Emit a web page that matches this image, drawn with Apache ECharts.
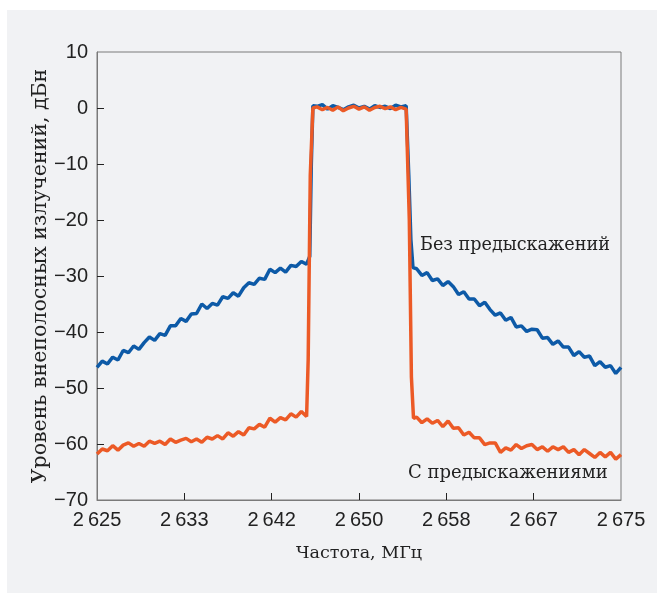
<!DOCTYPE html>
<html>
<head>
<meta charset="utf-8">
<script src="https://cdn.jsdelivr.net/npm/echarts@6/dist/echarts.min.js"></script>
<style>
  html, body { margin: 0; padding: 0; background: #ffffff; }
  #panel { position: absolute; left: 7px; top: 10px; width: 650px; height: 583px; background: #f1f2f4; }
  #chart { position: absolute; left: 0; top: 0; width: 658px; height: 594px; }
</style>
</head>
<body>
<div id="panel"></div>
<div id="chart"></div>
<script>
// sampling grids, MHz
function range(a, n) {
  const out = [];
  for (let i = 0; i < n; i++) out.push(a + i * 0.5);
  return out;
}
const freqLeft = range(2625, 41);   // 2625 .. 2645
const freqTop = range(2646, 18);    // 2646 .. 2654.5
const freqRight = range(2655.5, 40); // 2655.5 .. 2675

const xTickLabels = [2625, 2633.333, 2641.667, 2650, 2658.333, 2666.667, 2675];
const yTicks = [0, -10, -20, -30, -40, -50, -60];

// Без предыскажений (blue), dBc
const blueLeft = [-46.3, -45.2, -45.7, -44.5, -45.0, -43.3, -43.7, -42.5, -43.1, -41.9,
  -40.9, -41.5, -40.3, -40.6, -38.9, -38.9, -37.6, -38.1, -36.8, -36.7,
  -35.0, -35.8, -34.9, -35.2, -33.7, -34.0, -33.0, -33.6, -32.1, -31.2,
  -31.5, -30.4, -30.6, -28.8, -29.4, -28.6, -29.3, -28.1, -28.3, -27.4, -27.9];
const blueRiseFreq = [2645.3, 2645.45, 2645.6];
const blueRise = [-26.5, -10, 0.4];
const blueTop = [0.3, 0.6, -0.2, 0.4, 0.1, -0.3, 0.2, 0.5, 0.0, 0.3, -0.2, 0.4, 0.1, 0.3, -0.1, 0.5, 0.2, 0.4];
const blueFallFreq = [2654.75, 2654.95, 2655.15];
const blueFall = [-12, -23.5, -28.5];
const blueRight = [-28.7, -29.9, -29.4, -30.8, -30.5, -31.7, -31.0, -31.9, -33.3, -32.8,
  -34.1, -34.1, -35.3, -34.7, -36.0, -37.0, -36.6, -37.9, -37.4, -39.1,
  -38.9, -39.9, -39.5, -39.6, -41.1, -41.0, -42.2, -41.6, -42.7, -42.7,
  -44.2, -43.5, -44.5, -44.3, -46.0, -45.3, -46.3, -46.0, -47.4, -46.3];

// С предыскажениями (orange), dBc
const orangeLeft = [-61.8, -60.9, -61.2, -60.3, -61.1, -60.2, -59.8, -60.4, -59.9, -60.4,
  -59.5, -59.9, -59.5, -60.1, -59.1, -59.7, -59.3, -59.0, -59.6, -59.1,
  -59.7, -58.8, -59.1, -58.5, -59.1, -58.0, -58.6, -57.8, -58.4, -57.1,
  -57.3, -56.5, -57.0, -55.4, -56.1, -55.3, -55.7, -54.6, -55.2, -54.2, -55.1];
const orangeRiseFreq = [2645.15, 2645.35, 2645.6];
const orangeRise = [-45, -12, 0.0];
const orangeTop = [0.2, -0.3, 0.1, -0.4, 0.2, -0.5, 0.0, 0.3, -0.2, 0.2, -0.4, 0.1, 0.3, -0.1, 0.2, -0.3, 0.1, -0.2];
const orangeFallFreq = [2654.8, 2655.0, 2655.2];
const orangeFall = [-20, -48, -55.4];
const orangeRight = [-55.2, -56.2, -55.5, -56.3, -55.8, -56.9, -55.9, -57.2, -57.1, -58.4,
  -57.9, -58.9, -58.9, -60.1, -59.8, -59.8, -61.5, -60.7, -61.1, -60.1,
  -60.8, -60.3, -60.1, -61.0, -60.5, -61.3, -60.5, -61.0, -60.5, -61.5,
  -61.0, -61.9, -61.0, -61.7, -62.4, -61.5, -62.3, -61.5, -62.7, -61.9];

function pairs(xs, ys) {
  return xs.map((x, i) => [x, ys[i]]);
}

const blueData = [].concat(
  pairs(freqLeft, blueLeft), pairs(blueRiseFreq, blueRise), pairs(freqTop, blueTop),
  pairs(blueFallFreq, blueFall), pairs(freqRight, blueRight));
const orangeData = [].concat(
  pairs(freqLeft, orangeLeft), pairs(orangeRiseFreq, orangeRise), pairs(freqTop, orangeTop),
  pairs(orangeFallFreq, orangeFall), pairs(freqRight, orangeRight));

const numFont = "'Liberation Sans Narrow', 'Liberation Sans', sans-serif";
const textFont = "'DejaVu Serif', serif";

const chart = echarts.init(document.getElementById("chart"));
chart.setOption({
  backgroundColor: "transparent",
  animation: false,
  grid: {
    left: 97, top: 52, right: 37, bottom: 94,
    show: true, borderColor: "#7a7a7a", borderWidth: 1, backgroundColor: "transparent"
  },
  xAxis: {
    type: "value",
    min: 2625, max: 2675,
    name: "Частота, МГц",
    nameLocation: "middle",
    nameGap: 44,
    nameTextStyle: { fontFamily: textFont, fontSize: 17.5, color: "#222" },
    axisLine: { onZero: false, lineStyle: { color: "#7a7a7a" } },
    axisTick: {
      inside: true, length: 7, lineStyle: { color: "#222" },
      customValues: xTickLabels.slice(1, -1)
    },
    axisLabel: {
      customValues: xTickLabels,
      margin: 10,
      fontFamily: numFont, fontSize: 20, color: "#222",
      formatter: v => {
        const s = String(Math.round(v));
        return s[0] + "\u2009" + s.slice(1);
      }
    },
    splitLine: { show: false }
  },
  yAxis: {
    type: "value",
    min: -70, max: 10, interval: 10,
    name: "Уровень внеполосных излучений, дБн",
    nameLocation: "middle",
    nameGap: 46,
    nameMoveOverlap: false,
    nameTextStyle: { fontFamily: textFont, fontSize: 20.5, color: "#222" },
    axisLine: { show: true, onZero: false, lineStyle: { color: "#7a7a7a" } },
    axisTick: {
      show: true, inside: true, length: 7, lineStyle: { color: "#222" },
      customValues: yTicks
    },
    axisLabel: {
      margin: 9,
      fontFamily: numFont, fontSize: 20, color: "#222",
      formatter: v => (v < 0 ? "\u2212" + Math.abs(v) : String(v))
    },
    splitLine: { show: false }
  },
  series: [
    {
      name: "Без предыскажений",
      type: "line",
      data: blueData,
      showSymbol: false,
      lineStyle: { color: "#0d5aa7", width: 3.5 },
      z: 2
    },
    {
      name: "С предыскажениями",
      type: "line",
      data: orangeData,
      showSymbol: false,
      lineStyle: { color: "#ec5a26", width: 3.5 },
      z: 3
    }
  ],
  graphic: [
    {
      type: "text", left: 420, top: 236,
      style: { text: "Без предыскажений", fontFamily: textFont, fontSize: 17.6, fill: "#222" }
    },
    {
      type: "text", left: 408, top: 464,
      style: { text: "С предыскажениями", fontFamily: textFont, fontSize: 18, fill: "#222" }
    }
  ]
});
</script>
</body>
</html>
